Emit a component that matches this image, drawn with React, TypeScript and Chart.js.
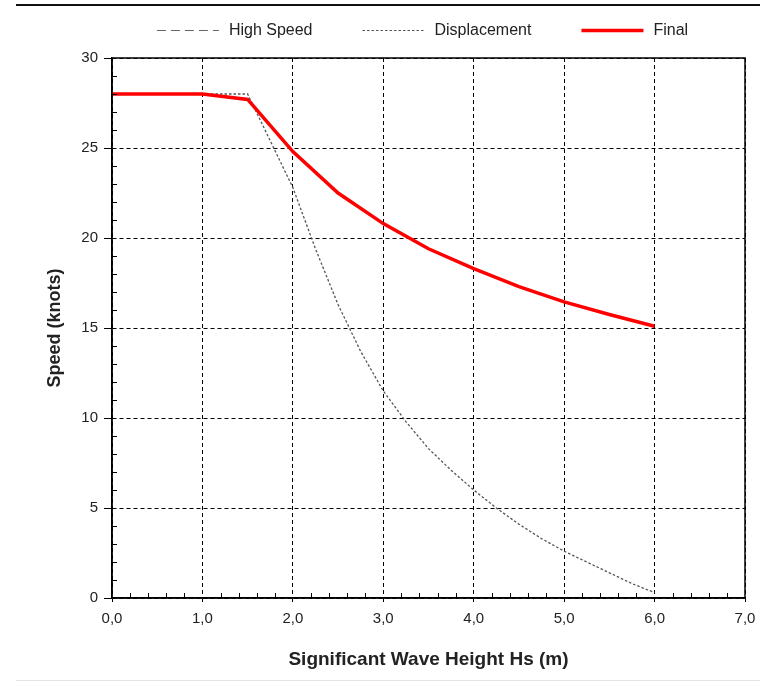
import React, { useEffect, useRef } from "react";
import { Chart, registerables } from "chart.js";

Chart.register(...registerables);

const waveHeight = [0, 1.0, 1.5, 2.0, 2.5, 3.0, 3.5, 4.0, 4.5, 5.0, 5.5, 6.0];
const finalSpeed = [28, 28, 27.7, 24.8, 22.5, 20.8, 19.4, 18.3, 17.3, 16.45, 15.75, 15.1];
const highSpeed = [28, 28, 27.7, 24.8, 22.5, 20.8, 19.4, 18.3, 17.3, 16.45, 15.75, 15.1];
const dispHeight = [0, 1.0, 1.5, 2.0, 2.25, 2.5, 2.75, 3.0, 3.25, 3.5, 3.75, 4.0, 4.25, 4.5, 4.75, 5.0, 5.25, 5.5, 5.75, 6.0];
const dispSpeed = [28, 28, 28, 22.8, 19.4, 16.3, 13.7, 11.5, 9.8, 8.3, 7.1, 6.0, 5.0, 4.1, 3.3, 2.6, 2.0, 1.4, 0.8, 0.3];

const seriesNames = ["High Speed", "Displacement", "Final"];
const xTicks = [0, 1, 2, 3, 4, 5, 6, 7];
const yTicks = [0, 5, 10, 15, 20, 25, 30];

const FONT = "'Liberation Sans', Arial, sans-serif";

const framePlugin = {
  id: "frame",
  beforeDraw(chart: any) {
    const { ctx, width, height } = chart;
    ctx.save();
    ctx.fillStyle = "#fff";
    ctx.fillRect(0, 0, width, height);
    ctx.strokeStyle = "#111";
    ctx.lineWidth = 2;
    ctx.beginPath();
    ctx.moveTo(16, 5);
    ctx.lineTo(width, 5);
    ctx.stroke();
    ctx.strokeStyle = "#e4e4e4";
    ctx.lineWidth = 1;
    ctx.beginPath();
    ctx.moveTo(16, 680.5);
    ctx.lineTo(width, 680.5);
    ctx.stroke();
    ctx.restore();
  },
  afterDatasetsDraw(chart: any) {
    const { ctx, chartArea: a, scales } = chart;
    const xs = scales.x;
    const ys = scales.y;
    ctx.save();
    ctx.strokeStyle = "#000";
    ctx.lineWidth = 1;
    ctx.setLineDash([]);
    for (let v = 0; v <= 30; v += 1) {
      if (v % 5 === 0) continue;
      const py = Math.round(ys.getPixelForValue(v)) + 0.5;
      ctx.beginPath();
      ctx.moveTo(a.left, py);
      ctx.lineTo(a.left + 5, py);
      ctx.stroke();
    }
    for (let i = 0; i <= 35; i++) {
      if (i % 5 === 0) continue;
      const px = Math.round(xs.getPixelForValue(i * 0.2)) + 0.5;
      ctx.beginPath();
      ctx.moveTo(px, a.bottom);
      ctx.lineTo(px, a.bottom - 5);
      ctx.stroke();
    }
    ctx.lineWidth = 1.5;
    ctx.strokeRect(a.left, a.top, a.right - a.left, a.bottom - a.top);

    // legend
    ctx.font = `16px ${FONT}`;
    ctx.textBaseline = "middle";
    const lineLen = 62;
    const gapLT = 10;
    const gapItems = 50;
    const ds = chart.data.datasets;
    const widths = ds.map((d: any) => lineLen + gapLT + ctx.measureText(d.label).width);
    const total = widths.reduce((s: number, w: number) => s + w, 0) + gapItems * (ds.length - 1);
    let x = (a.left + a.right) / 2 - total / 2 - 6;
    const y = 30;
    ds.forEach((d: any, i: number) => {
      ctx.save();
      ctx.strokeStyle = d.borderColor;
      ctx.lineWidth = d.label === "Final" ? 3.5 : 1.2;
      ctx.setLineDash(d.label === "High Speed" ? [9, 5] : d.borderDash || []);
      ctx.beginPath();
      ctx.moveTo(x, y + 0.5);
      ctx.lineTo(x + lineLen, y + 0.5);
      ctx.stroke();
      ctx.restore();
      ctx.fillStyle = "#222";
      ctx.fillText(d.label, x + lineLen + gapLT, y + 1);
      x += widths[i] + gapItems;
    });
    ctx.restore();
  },
};

export default function App() {
  const ref = useRef<HTMLCanvasElement | null>(null);
  useEffect(() => {
    if (!ref.current) return;
    const chart = new Chart(ref.current, {
      type: "line",
      data: {
        datasets: [
          {
            label: seriesNames[0],
            data: waveHeight.map((x, i) => ({ x, y: highSpeed[i] })),
            borderColor: "#666",
            borderWidth: 1,
            borderDash: [8, 4],
            pointRadius: 0,
            fill: false,
            order: 3,
          },
          {
            label: seriesNames[1],
            data: dispHeight.map((x, i) => ({ x, y: dispSpeed[i] })),
            borderColor: "#555",
            borderWidth: 1.3,
            borderDash: [2.5, 2],
            pointRadius: 0,
            fill: false,
            order: 2,
          },
          {
            label: seriesNames[2],
            data: waveHeight.map((x, i) => ({ x, y: finalSpeed[i] })),
            borderColor: "#ff0000",
            borderWidth: 3.5,
            pointRadius: 0,
            fill: false,
            order: 1,
          },
        ],
      },
      options: {
        animation: false,
        responsive: true,
        maintainAspectRatio: false,
        layout: { padding: { top: 58, right: 15, left: 44, bottom: 12 } },
        plugins: {
          tooltip: { enabled: false },
          legend: { display: false },
        },
        scales: {
          x: {
            type: "linear",
            min: 0,
            max: 7,
            afterBuildTicks: (s: any) => {
              s.ticks = xTicks.map((v) => ({ value: v }));
            },
            afterFit: (s: any) => {
              s.height = 73;
              s.paddingLeft = 0;
              s.paddingRight = 0;
            },
            ticks: {
              color: "#222",
              font: { family: FONT, size: 15 },
              padding: 8,
              maxRotation: 0,
              callback: (v: any) => Number(v).toFixed(1).replace(".", ","),
            },
            grid: { color: "#000", lineWidth: 1, tickLength: 4, tickColor: "#000" },
            border: { display: true, color: "#000", width: 1.5, dash: [4, 3] },
            title: {
              display: true,
              text: "Significant Wave Height Hs (m)",
              color: "#222",
              font: { family: FONT, size: 19, weight: "bold" },
              padding: { top: 0, bottom: 0 },
            },
          },
          y: {
            type: "linear",
            min: 0,
            max: 30,
            afterBuildTicks: (s: any) => {
              s.ticks = yTicks.map((v) => ({ value: v }));
            },
            afterFit: (s: any) => {
              s.width = 68;
              s.paddingTop = 0;
              s.paddingBottom = 0;
            },
            ticks: { color: "#222", font: { family: FONT, size: 15 }, padding: 6 },
            grid: { color: "#000", lineWidth: 1, tickLength: 8, tickColor: "#000" },
            border: { display: true, color: "#000", width: 1.5, dash: [4, 3] },
            title: {
              display: true,
              text: "Speed (knots)",
              color: "#222",
              font: { family: FONT, size: 18, weight: "bold" },
              padding: { top: 0, bottom: 0 },
            },
          },
        },
      },
      plugins: [framePlugin],
    } as any);
    return () => chart.destroy();
  }, []);
  return (
    <div style={{ position: "fixed", left: 0, top: 0, width: 760, height: 683, background: "#fff" }}>
      <canvas ref={ref} />
    </div>
  );
}
